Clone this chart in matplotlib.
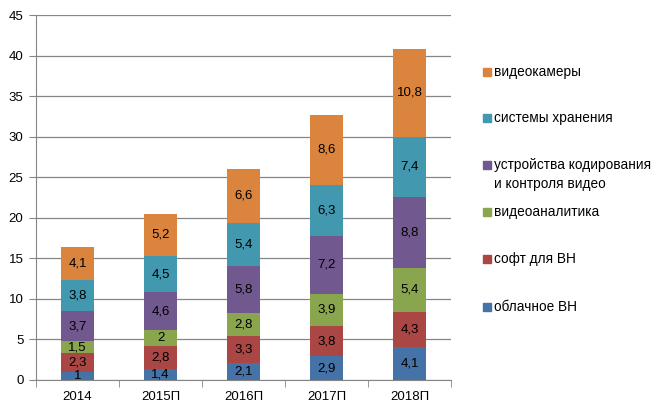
import numpy as np
import matplotlib.pyplot as plt
from matplotlib.patches import Rectangle

plt.rcParams['font.family'] = ['Liberation Sans', 'DejaVu Sans']

years = ['2014', '2015П', '2016П', '2017П', '2018П']
series_names = ['облачное ВН', 'софт для ВН', 'видеоаналитика',
                'устройства кодирования\nи контроля видео', 'системы хранения', 'видеокамеры']
cloud = [1, 1.4, 2.1, 2.9, 4.1]
soft = [2.3, 2.8, 3.3, 3.8, 4.3]
analytics = [1.5, 2, 2.8, 3.9, 5.4]
coding = [3.7, 4.6, 5.8, 7.2, 8.8]
storage = [3.8, 4.5, 5.4, 6.3, 7.4]
cameras = [4.1, 5.2, 6.6, 8.6, 10.8]
colors = ['#4572A7', '#AA4643', '#89A54E', '#71588F', '#4198AF', '#DB843D']

data = [cloud, soft, analytics, coding, storage, cameras]

fig = plt.figure(figsize=(6.62, 4.15), dpi=100)
ax = fig.add_axes([36 / 662, 1 - 380 / 415, 415 / 662, 365 / 415])

x = np.arange(len(years))
bottom = np.zeros(len(years))
for vals, col in zip(data, colors):
    vals = np.array(vals)
    ax.bar(x, vals, 0.4, bottom=bottom, color=col, zorder=3)
    for xi, b, v in zip(x, bottom, vals):
        ax.text(xi, b + v / 2, f'{v:g}'.replace('.', ','), ha='center', va='center',
                fontsize=9.5, color='black', zorder=4)
    bottom += vals

ax.set_xlim(-0.5, len(years) - 0.5)
ax.set_ylim(0, 45)
ax.set_yticks(range(0, 46, 5))
ax.set_xticks(x)
ax.set_xticklabels(years)
ax.set_xticks(np.arange(-0.5, len(years)), minor=True)
ax.tick_params(axis='x', which='major', length=0, labelsize=9.5, pad=8)
ax.tick_params(axis='x', which='minor', length=5, color='#868686', direction='out')
ax.tick_params(axis='y', length=5, color='#868686', labelsize=9.5, pad=4)
ax.yaxis.grid(True, color='#868686', linewidth=0.9, zorder=0)
for s in ['top', 'right']:
    ax.spines[s].set_visible(False)
ax.spines['left'].set_color('#868686')
ax.spines['bottom'].set_color('#868686')

# legend placed by hand, bottom entry first (y of first text line, px from top)
leg_y = [307, 259, 212, 165, 118, 72]
for name, col, yy in zip(series_names, colors, leg_y):
    fig.patches.append(Rectangle((483 / 662, 1 - (yy + 4) / 415), 8 / 662, 8 / 415,
                                 transform=fig.transFigure, color=col))
    fig.text(494 / 662, 1 - (yy - 7) / 415, name, ha='left', va='top', fontsize=9.8,
             linespacing=1.45)

fig.savefig('out.png', dpi=100)
